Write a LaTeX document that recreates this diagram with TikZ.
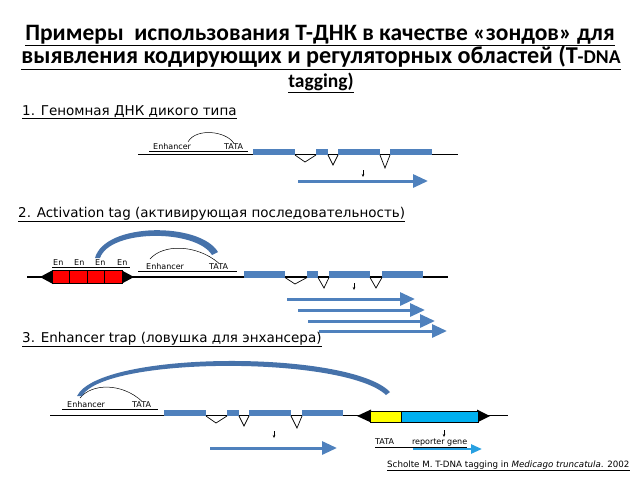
\documentclass[tikz,border=0pt]{standalone}
\usepackage{fontspec}
\setmainfont{Carlito}
\newfontfamily\handfont{DejaVu Sans}
\usetikzlibrary{arrows.meta}

\definecolor{exonblue}{RGB}{79,129,189}
\definecolor{arcblue}{RGB}{70,114,170}
\definecolor{tagred}{RGB}{255,0,0}
\definecolor{repyellow}{RGB}{255,255,0}
\definecolor{repcyan}{RGB}{0,176,240}
\definecolor{lightarrow}{RGB}{40,160,225}

\newcommand\smallpart[1]{{\fontsize{19.5}{22}\selectfont #1}}

\begin{document}
\begin{tikzpicture}[x=1pt,y=-1pt,>=stealth,
    titletext/.style={font=\bfseries\fontsize{23.5}{26}\selectfont,inner sep=0pt,anchor=base},
    heading/.style={font=\handfont\fontsize{13.5}{15}\selectfont,inner sep=0pt,anchor=base west},
    smalltext/.style={font=\handfont\fontsize{8}{9}\selectfont,inner sep=0pt,anchor=base west},
    dna/.style={line width=1.3pt},
    exon/.style={fill=exonblue,draw=none},
    intron/.style={line width=0.7pt},
    mrna/.style={draw=exonblue,line width=3pt,-{Triangle[length=15pt,width=13pt]}},
    downmark/.style={line width=0.5pt,-{Stealth[length=3pt,width=2.5pt]}}]

    \useasboundingbox (0,0) rectangle (640,480);

    % заголовок
    \node[titletext] (title1) at (320,40) {\underline{Примеры\ \ использования Т-ДНК в качестве «зондов» для}};
    \node[titletext,font=\bfseries\fontsize{24.2}{26}\selectfont] (title2) at (321,63.5)
        {\underline{выявления кодирующих и регуляторных областей (T\smallpart{-DNA}}};
    \node[titletext] (title3) at (321,87) {\underline{\smallpart{tagging)}}};

    % 1. дикий тип
    \node[heading] (head1) at (22,115) {\underline{1. Геномная ДНК дикого типа}};

    \draw[dna] (138,154.5) -- (458,154.5);
    \foreach \a/\b in {253/295,316/328,338/380,390/432}
        \fill[exon] (\a,149) rectangle (\b,155);
    \draw[intron] (295,155) -- (305,162) -- (316,155);
    \draw[intron] (328,155) -- (333,165) -- (338,155);
    \draw[intron] (380,155) -- (385,168) -- (390,155);

    \node[smalltext] (enh1) at (153,149) {Enhancer};
    \node[smalltext] (tata1) at (224,149) {TATA};
    \draw[line width=0.5pt] (149,151.5) -- (248,151.5);
    \draw[line width=0.5pt] (enh1.north) ++(16,-1) .. controls +(8,-14) and +(-8,-12) .. (tata1.north);

    \coordinate (down1) at (363,170);
    \draw[downmark] (down1) -- ++(0,7);
    \coordinate (tr1) at (298,181);
    \draw[mrna] (tr1) -- ++(130,0);

    % 2. activation tag
    \node[heading] (head2) at (18,217) {\underline{2. Activation tag (активирующая последовательность)}};

    \draw[dna] (27,277) -- (448,277);
    \fill (40,277) -- (53,270) -- (53,284) -- cycle;
    \fill (134,277) -- (121,270) -- (121,284) -- cycle;
    \foreach \i in {0,...,3}
        \draw[fill=tagred,line width=0.8pt] ({52+17.5*\i},270) rectangle ++(17.5,13);
    \foreach \x/\n in {53/en1,74/en2,95/en3,117/en4}
        \node[smalltext] (\n) at (\x,265) {En};
    \draw[line width=0.5pt] (52,267.5) -- (130,267.5);

    \node[smalltext] (enh2) at (146,269) {Enhancer};
    \node[smalltext] (tata2) at (209,269) {TATA};
    \draw[line width=0.5pt] (138,271.5) -- (237,271.5);
    \draw[line width=0.5pt] (150,259) .. controls (163,244) and (196,244) .. (tata2.north);
    \fill[arcblue] (95,258) .. controls (105,222) and (200,222) .. (218,252)
        -- (212,255) .. controls (196,229) and (110,229) .. (100,258) -- cycle;

    \foreach \a/\b in {244/285,307/318,329/370,382/423}
        \fill[exon] (\a,271) rectangle (\b,277.5);
    \draw[intron] (285,277.5) -- (295,284) -- (307,277.5);
    \draw[intron] (318,277.5) -- (324,288) -- (329,277.5);
    \draw[intron] (370,277.5) -- (376,288) -- (382,277.5);

    \coordinate (down2) at (354,283);
    \draw[downmark] (down2) -- ++(0,7);
    \foreach \s/\e/\y in {287/415/299,298/425/310,308/435/321,319/447/331}
        \draw[mrna] (\s,\y) -- (\e,\y);

    % 3. enhancer trap
    \node[heading] (head3) at (22,342) {\underline{3. Enhancer trap (ловушка для энхансера)}};

    \draw[dna] (50,415.5) -- (508,415.5);
    \foreach \a/\b in {164/206,227/239,249/291,302/343}
        \fill[exon] (\a,410) rectangle (\b,416);
    \draw[intron] (206,416) -- (216,423) -- (227,416);
    \draw[intron] (239,416) -- (244,426) -- (249,416);
    \draw[intron] (291,416) -- (297,428) -- (302,416);

    \node[smalltext] (enh3) at (67,407) {Enhancer};
    \node[smalltext] (tata3) at (132,407) {TATA};
    \draw[line width=0.5pt] (62,409.5) -- (158,409.5);
    \draw[line width=0.5pt] (80,398) .. controls (92,383) and (122,383) .. (tata3.north);
    \fill[arcblue] (77,396) .. controls (100,350) and (350,350) .. (390,392)
        -- (386,395) .. controls (345,356) and (105,356) .. (82,396) -- cycle;

    % репортерная конструкция
    \fill (357,416) -- (371,409.5) -- (371,422.5) -- cycle;
    \fill (490,416) -- (477,409.5) -- (477,422.5) -- cycle;
    \draw[fill=repyellow,line width=0.8pt] (370,411) rectangle (401,422);
    \draw[fill=repcyan,line width=0.8pt] (401,411) rectangle (478,422);

    \coordinate (down3) at (274,431);
    \draw[downmark] (down3) -- ++(0,7);
    \coordinate (down4) at (444,430);
    \draw[downmark] (down4) -- ++(0,7);
    \coordinate (tr3) at (210,448);
    \draw[mrna] (tr3) -- ++(127,0);

    \node[smalltext] (rep) at (375,444) {\underline{TATA\hspace{18pt}reporter gene}};
    \draw[draw=lightarrow,line width=2.5pt,-{Triangle[length=11pt,width=9pt]}] (413,449) -- (482,449);

    \node[smalltext,font=\handfont\fontsize{8.7}{10}\selectfont] (cite) at (387,467)
        {\underline{Scholte M. T-DNA tagging in \textit{Medicago truncatula}. 2002}};

\end{tikzpicture}
\end{document}
